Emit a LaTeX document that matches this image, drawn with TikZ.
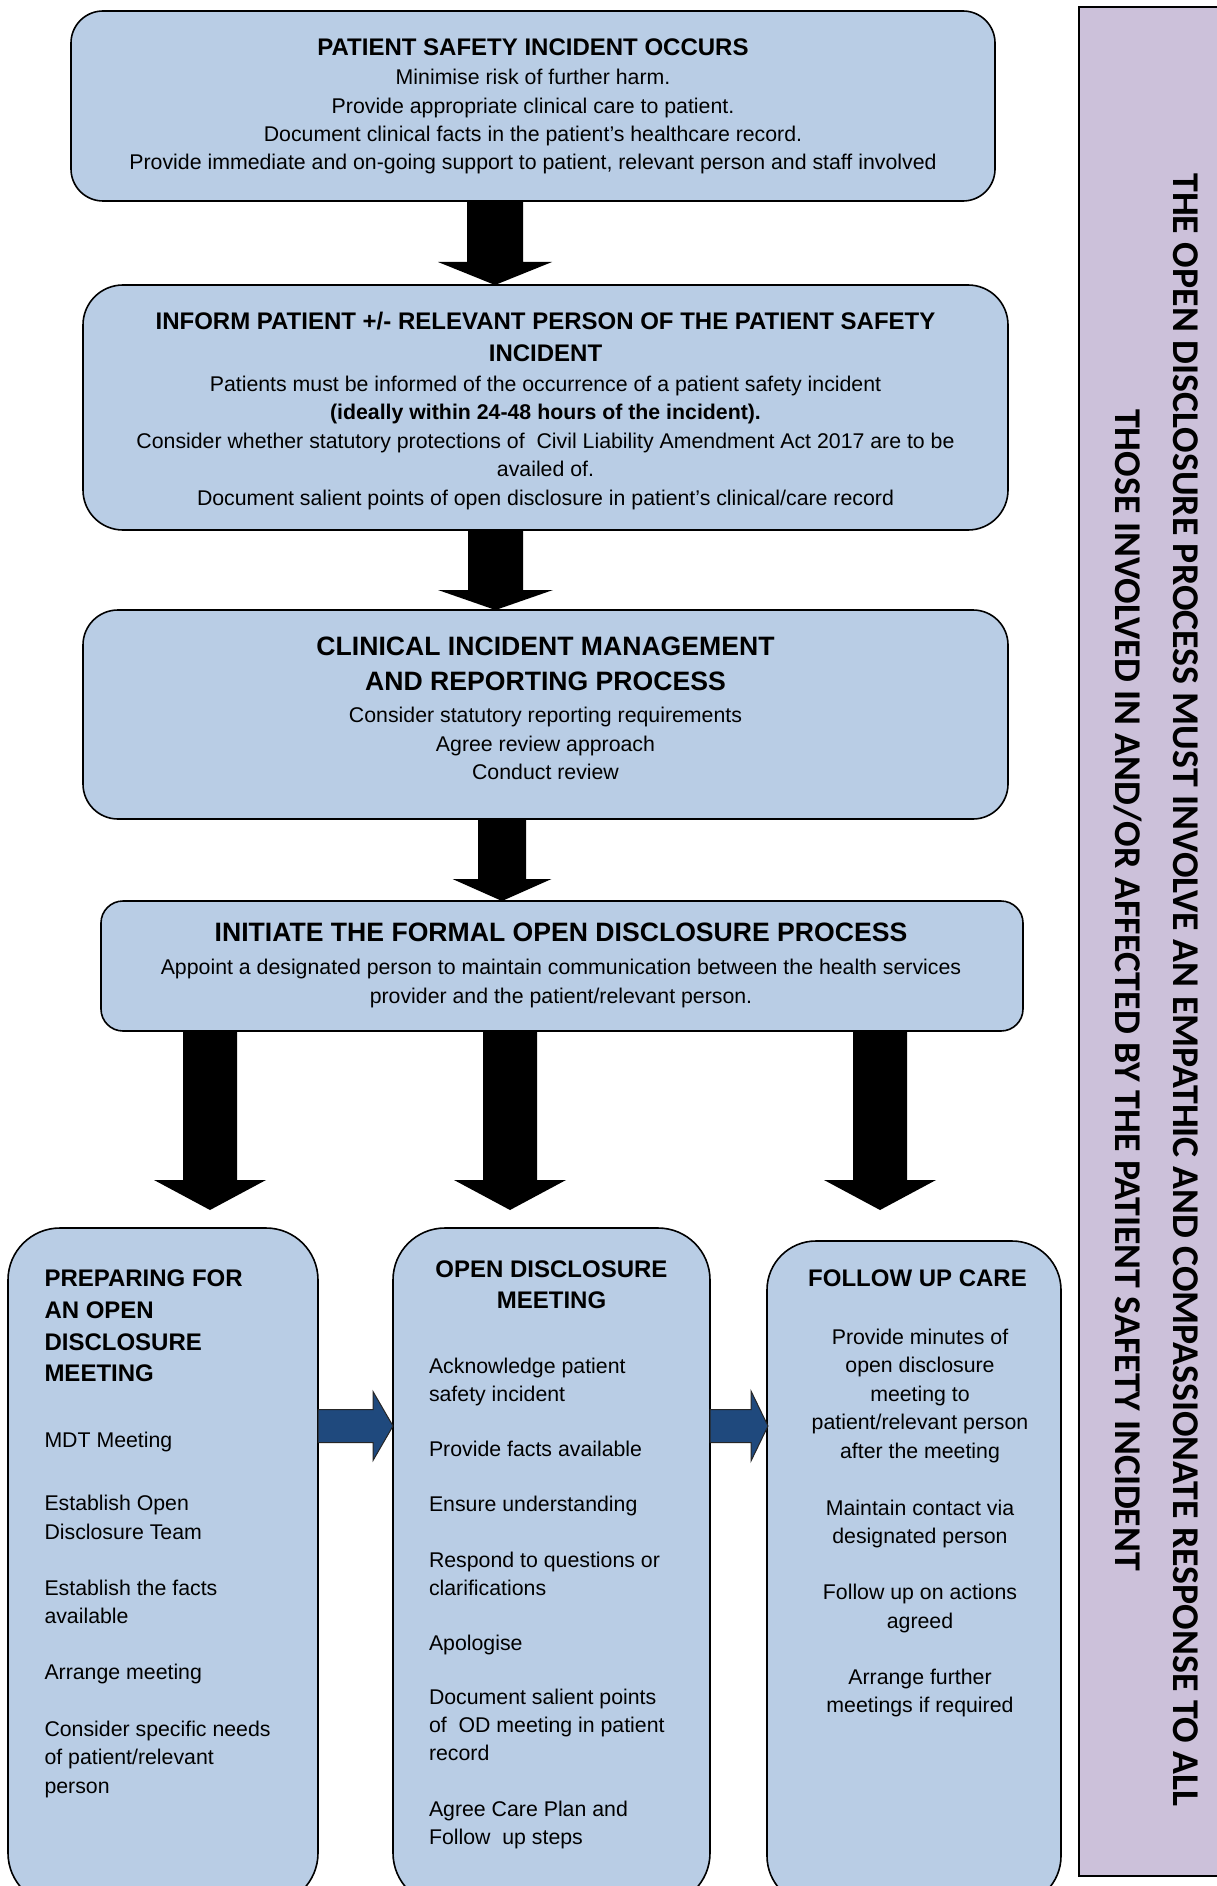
\documentclass[tikz,border=0pt]{standalone}
\usepackage{fontspec}
\setmainfont{Liberation Sans}
\newfontfamily\sidefont{Carlito}
\usetikzlibrary{calc}
\definecolor{boxblue}{HTML}{B9CDE5}
\definecolor{sidepurple}{HTML}{CCC1DA}
\definecolor{arrowblue}{HTML}{1F497D}
\newcommand\ttlA{\fontsize{24}{28.4}\selectfont\bfseries}
\newcommand\ttlB{\fontsize{26.6}{28.4}\selectfont\bfseries}
\tikzset{
  pics/downblock/.style args={#1/#2/#3/#4}{code={
    \fill[black] (-#2,0) -- (-#2,#1-#4) -- (-#3,#1-#4) -- (0,#1) -- (#3,#1-#4) -- (#2,#1-#4) -- (#2,0) -- cycle;}},
  pics/rightblock/.style args={#1/#2/#3/#4}{code={
    \filldraw[fill=arrowblue,draw=black!85,line width=1pt] (0,-#2) -- (#1-#4,-#2) -- (#1-#4,-#3) -- (#1,0) -- (#1-#4,#3) -- (#1-#4,#2) -- (0,#2) -- cycle;}}
}
\begin{document}
\begin{tikzpicture}[x=1pt,y=-1pt,
  box/.style={draw=black, line width=1.6pt, fill=boxblue, inner sep=0pt, outer sep=0pt},
  body/.style={font=\fontsize{21.3}{28.4}\selectfont, inner sep=0pt, outer sep=0pt, align=center},
  bodyl/.style={font=\fontsize{21.3}{28.3}\selectfont, inner sep=0pt, outer sep=0pt, align=left},
  bodym/.style={font=\fontsize{21.3}{28}\selectfont, inner sep=0pt, outer sep=0pt, align=left},
  ttlleft/.style={font=\fontsize{24}{31.7}\selectfont\bfseries, inner sep=0pt, outer sep=0pt, align=left},
  ttlcenter/.style={font=\fontsize{24}{31.3}\selectfont\bfseries, inner sep=0pt, outer sep=0pt, align=center},
  sidetext/.style={font=\sidefont\bfseries\fontsize{37.8}{58}\selectfont, inner sep=0pt, align=center, rotate=-90}
]
\useasboundingbox (0,0) rectangle (1217,1886);
\clip (0,0) rectangle (1217,1886);

% side panel
\node[draw=black, line width=1.6pt, fill=sidepurple, inner sep=0pt, outer sep=0pt,
      minimum width=170pt, minimum height=1869pt] (side) at (1164,941.5) {};
\node[sidetext] (sidet) at (1156,990)
  {THE OPEN DISCLOSURE PROCESS MUST INVOLVE AN EMPATHIC AND COMPASSIONATE RESPONSE TO ALL\\
   THOSE INVOLVED IN AND/OR AFFECTED BY THE PATIENT SAFETY INCIDENT};

% main boxes
\node[box, rounded corners=32pt, minimum width=924pt, minimum height=190pt] (b1) at (533,106) {};
\node[box, rounded corners=40pt, minimum width=925pt, minimum height=245pt] (b2) at (545.5,407.5) {};
\node[box, rounded corners=35pt, minimum width=925pt, minimum height=209pt] (b3) at (545.5,714.5) {};
\node[box, rounded corners=22pt, minimum width=922pt, minimum height=130pt] (b4) at (562,966) {};

\node[box, rounded corners=52pt, minimum width=310pt, minimum height=677pt] (bl) at (163,1566.5) {};
\node[box, rounded corners=52pt, minimum width=317pt, minimum height=677pt] (bm) at (551.5,1566.5) {};
\node[box, rounded corners=49pt, minimum width=294pt, minimum height=664pt] (br) at (914,1573) {};

% black block arrows
\coordinate (a1) at ($(b1.south)+(-38,0)$);
\coordinate (a2) at ($(b2.south)+(-50,0)$);
\coordinate (a3) at ($(b3.south)+(-43.5,0)$);
\coordinate (a4) at ($(b4.south)+(-352,0)$);
\coordinate (a5) at ($(b4.south)+(-52,0)$);
\coordinate (a6) at ($(b4.south)+(318,0)$);
\pic at (a1) {downblock=84/28/57/23};
\pic at (a2) {downblock=80/27.5/57.5/20};
\pic at (a3) {downblock=82/24/49.5/22};
\pic at (a4) {downblock=179/27/56/30};
\pic at (a5) {downblock=179/27/56/30};
\pic at (a6) {downblock=179/27/56/30};

% blue block arrows
\coordinate (h1) at ($(bl.north east)+(0,198)$);
\coordinate (h2) at ($(bm.north east)+(0,198)$);
\pic at (h1) {rightblock=75/16.5/34.5/20};
\pic at (h2) {rightblock=58/16.5/35/17};

% texts of main boxes (anchor base = baseline of last line)
\node[body, anchor=base] (t1) at (533,170)
  {{\ttlA PATIENT SAFETY INCIDENT OCCURS}\\[0.6pt]
   Minimise risk of further harm.\\
   Provide appropriate clinical care to patient.\\
   Document clinical facts in the patient’s healthcare record.\\
   Provide immediate and on-going support to patient, relevant person and staff involved};

\node[body, anchor=base] (t2) at (545.5,505)
  {{\ttlA INFORM PATIENT +/- RELEVANT PERSON OF THE PATIENT SAFETY}\\[3.1pt]
   {\ttlA INCIDENT}\\[1.7pt]
   Patients must be informed of the occurrence of a patient safety incident\\
   {\bfseries (ideally within 24-48 hours of the incident).}\\
   Consider whether statutory protections of\ \ Civil Liability Amendment Act 2017 are to be\\
   availed of.\\
   Document salient points of open disclosure in patient’s clinical/care record};

\node[body, anchor=base] (t3) at (545.5,779.5)
  {{\ttlB CLINICAL INCIDENT MANAGEMENT}\\[6.6pt]
   {\ttlB AND REPORTING PROCESS}\\[3.6pt]
   Consider statutory reporting requirements\\
   Agree review approach\\
   Conduct review};

\node[body, anchor=base] (t4) at (561,1003)
  {{\ttlB INITIATE THE FORMAL OPEN DISCLOSURE PROCESS}\\[4.6pt]
   Appoint a designated person to maintain communication between the health services\\
   provider and the patient/relevant person.};

% texts of lower boxes
\node[ttlleft, anchor=base west] (tlt) at (44.5,1381.7)
  {PREPARING FOR\\AN OPEN\\DISCLOSURE\\MEETING};
\node[bodyl, anchor=base west] (tlb) at (44.5,1793)
  {MDT Meeting\\[35pt]
   Establish Open\\Disclosure Team\\[28pt]
   Establish the facts\\available\\[27pt]
   Arrange meeting\\[29pt]
   Consider specific needs\\of patient/relevant\\person};

\node[ttlcenter, anchor=base] (tmt) at (551.5,1308.6)
  {OPEN DISCLOSURE\\MEETING};
\node[bodym, anchor=base west] (tmb) at (429,1844.5)
  {Acknowledge patient\\safety incident\\[27pt]
   Provide facts available\\[27pt]
   Ensure understanding\\[28pt]
   Respond to questions or\\clarifications\\[27pt]
   Apologise\\[26pt]
   Document salient points\\of\ \ OD meeting in patient\\record\\[28pt]
   Agree Care Plan and\\Follow\ \ up steps};

\node[ttlcenter, anchor=base] (trt) at (917.5,1286.6) {FOLLOW UP CARE};
\node[body, anchor=base] (trb) at (920,1712.8)
  {Provide minutes of\\open disclosure\\meeting to\\patient/relevant person\\after the meeting\\[28.6pt]
   Maintain contact via\\designated person\\[28pt]
   Follow up on actions\\agreed\\[27.7pt]
   Arrange further\\meetings if required};
\end{tikzpicture}
\end{document}
